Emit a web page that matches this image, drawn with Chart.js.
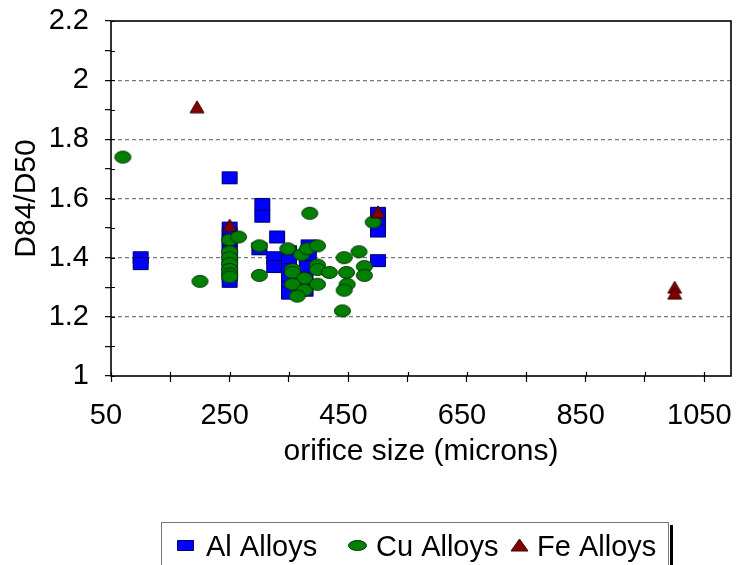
<!DOCTYPE html>
<html>
<head>
<meta charset="utf-8">
<script src="https://cdn.jsdelivr.net/npm/chart.js@4.4.0/dist/chart.umd.min.js"></script>
<style>
  html, body { margin: 0; padding: 0; background: #fff; }
  #wrap { width: 736px; height: 565px; position: relative; }
</style>
</head>
<body>
<div id="wrap"><canvas id="c"></canvas></div>
<script>
// Orifice size (microns) vs. D84/D50 spread, by alloy family
const alX = [100, 100, 250, 250, 250, 250, 250, 250, 250, 250, 250, 250, 250, 305, 305, 300, 330, 325, 325, 350, 350, 350, 350, 350, 350, 383, 383, 383, 380, 378, 378, 500, 500, 500, 500];
const alY = [1.40, 1.38, 1.67, 1.50, 1.48, 1.46, 1.44, 1.42, 1.40, 1.38, 1.36, 1.34, 1.32, 1.58, 1.54, 1.43, 1.47, 1.40, 1.37, 1.42, 1.39, 1.36, 1.33, 1.30, 1.28, 1.44, 1.42, 1.40, 1.37, 1.33, 1.29, 1.55, 1.52, 1.49, 1.39];

const cuX = [70, 200, 250, 250, 250, 250, 250, 250, 250, 265, 300, 300, 385, 348, 371, 381, 398, 356, 356, 376, 356, 376, 364, 398, 398, 398, 418, 443, 468, 447, 448, 443, 477, 477, 440, 492];
const cuY = [1.74, 1.32, 1.46, 1.42, 1.40, 1.38, 1.36, 1.345, 1.335, 1.47, 1.44, 1.34, 1.55, 1.43, 1.41, 1.43, 1.44, 1.36, 1.35, 1.33, 1.31, 1.29, 1.27, 1.375, 1.36, 1.31, 1.35, 1.40, 1.42, 1.35, 1.31, 1.29, 1.37, 1.34, 1.22, 1.52];

const feX = [195, 250, 500, 1000, 1000];
const feY = [1.91, 1.51, 1.555, 1.30, 1.28];

const seriesNames = ['Al Alloys', 'Cu Alloys', 'Fe Alloys'];

const xTickValues = [50, 150, 250, 350, 450, 550, 650, 750, 850, 950, 1050];
const xLabelValues = [50, 250, 450, 650, 850, 1050];
const yTickValues = [1, 1.1, 1.2, 1.3, 1.4, 1.5, 1.6, 1.7, 1.8, 1.9, 2, 2.1, 2.2];
const yLabelValues = [1, 1.2, 1.4, 1.6, 1.8, 2, 2.2];
const yGridValues = [1.2, 1.4, 1.6, 1.8, 2];

const FONT = "'Liberation Sans', Arial, sans-serif";
Chart.defaults.font.family = FONT;
Chart.defaults.color = '#000';

// Marker sprites (Chart.js centres image point styles on the data point)
function marker(shape, w, h, fill, stroke) {
  const c = document.createElement('canvas');
  c.width = w + 2; c.height = h + 2;
  const g = c.getContext('2d');
  g.fillStyle = fill; g.strokeStyle = stroke; g.lineWidth = 1;
  g.beginPath();
  if (shape === 'rect') {
    g.rect(1.5, 1.5, w - 1, h - 1);
  } else if (shape === 'ellipse') {
    g.ellipse(c.width / 2, c.height / 2, w / 2 - 0.5, h / 2 - 0.5, 0, 0, Math.PI * 2);
  } else {
    g.moveTo(c.width / 2, 1);
    g.lineTo(w + 1, h + 1);
    g.lineTo(1, h + 1);
    g.closePath();
  }
  g.fill(); g.stroke();
  return c;
}
const alMarker = marker('rect', 16, 13, '#0000ff', '#00006a');
const cuMarker = marker('ellipse', 17, 13, '#008000', '#003000');
const feMarker = marker('triangle', 14, 12, '#800000', '#3a0000');
const legendMarkers = [marker('rect', 17, 11, '#0000ff', '#00006a'), marker('ellipse', 19, 11, '#008000', '#003000'), marker('triangle', 17, 12, '#800000', '#3a0000')];

const toPoints = (xs, ys) => xs.map((x, i) => ({ x: x, y: ys[i] }));
const near = (list, v) => list.some(t => Math.abs(t - v) < 1e-6);

// Plot frame plus the inner halves of the tick marks
const framePlugin = {
  id: 'frame',
  afterDraw(chart) {
    const { ctx, chartArea: a, scales } = chart;
    ctx.save();
    ctx.strokeStyle = '#000';
    ctx.lineWidth = 1.2;
    ctx.beginPath();
    xTickValues.forEach(v => {
      const px = Math.round(scales.x.getPixelForValue(v)) + 0.5;
      ctx.moveTo(px, a.bottom); ctx.lineTo(px, a.bottom - 4);
    });
    yTickValues.forEach(v => {
      const py = Math.round(scales.y.getPixelForValue(v)) + 0.5;
      ctx.moveTo(a.left, py); ctx.lineTo(a.left + 4, py);
    });
    ctx.stroke();
    ctx.lineWidth = 1.6;
    ctx.strokeRect(a.left, a.top, a.right - a.left, a.bottom - a.top);
    ctx.restore();
  }
};

// Boxed legend below the axis title
const legendBoxPlugin = {
  id: 'legendBox',
  afterDraw(chart) {
    const ctx = chart.ctx;
    ctx.save();
    ctx.strokeStyle = '#777';
    ctx.lineWidth = 1;
    ctx.strokeRect(161.5, 522.5, 507, 60);
    ctx.fillStyle = '#000';
    ctx.fillRect(670, 525, 3, 45);
    const items = [
      { mx: 185, tx: 206 },
      { mx: 357, tx: 376 },
      { mx: 519, tx: 537 }
    ];
    ctx.font = '29px ' + FONT;
    ctx.textBaseline = 'alphabetic';
    ctx.textAlign = 'left';
    items.forEach((it, i) => {
      const m = legendMarkers[i];
      ctx.drawImage(m, Math.round(it.mx - m.width / 2), Math.round(545 - m.height / 2));
      ctx.fillStyle = '#000';
      ctx.fillText(seriesNames[i], it.tx, 556);
    });
    ctx.restore();
  }
};

new Chart(document.getElementById('c'), {
  type: 'scatter',
  data: {
    datasets: [
      { label: seriesNames[0], data: toPoints(alX, alY), pointStyle: alMarker, order: 3 },
      { label: seriesNames[1], data: toPoints(cuX, cuY), pointStyle: cuMarker, order: 2 },
      { label: seriesNames[2], data: toPoints(feX, feY), pointStyle: feMarker, order: 1 }
    ]
  },
  options: {
    responsive: true,
    maintainAspectRatio: false,
    animation: false,
    events: [],
    layout: { padding: { top: 21, right: 3, left: 0, bottom: 0 } },
    plugins: { legend: { display: false }, tooltip: { enabled: false } },
    scales: {
      x: {
        type: 'linear',
        min: 50,
        max: 1095,
        afterBuildTicks: s => { s.ticks = xTickValues.map(v => ({ value: v })); },
        afterFit: s => { s.height = 189; s.paddingLeft = 0; s.paddingRight = 0; },
        grid: { drawOnChartArea: false, tickLength: 6, tickColor: '#000', tickWidth: 1.2 },
        border: { display: false },
        ticks: {
          autoSkip: false,
          maxRotation: 0,
          padding: 17,
          labelOffset: -5,
          font: { size: 29 },
          color: '#000',
          callback: v => near(xLabelValues, v) ? String(v) : ''
        },
        title: {
          display: true,
          text: 'orifice size (microns)',
          font: { size: 30 },
          color: '#000',
          padding: { top: 0, bottom: 95 }
        }
      },
      y: {
        type: 'linear',
        min: 1,
        max: 2.2,
        afterBuildTicks: s => { s.ticks = yTickValues.map(v => ({ value: v })); },
        afterFit: s => { s.width = 111; s.paddingTop = 0; s.paddingBottom = 0; },
        grid: {
          color: c => near(yGridValues, c.tick.value) ? '#7a7a7a' : 'rgba(0,0,0,0)',
          lineWidth: 1.3,
          tickLength: 6,
          tickColor: '#000',
          tickWidth: 1.2
        },
        border: { display: false, dash: [4, 3] },
        ticks: {
          autoSkip: false,
          padding: 16,
          font: { size: 29 },
          color: '#000',
          callback: v => near(yLabelValues, v) ? String(Math.round(v * 10) / 10) : ''
        },
        title: {
          display: true,
          text: 'D84/D50',
          font: { size: 30 },
          color: '#000',
          padding: { top: 9, bottom: 0 }
        }
      }
    }
  },
  plugins: [framePlugin, legendBoxPlugin]
});
</script>
</body>
</html>
